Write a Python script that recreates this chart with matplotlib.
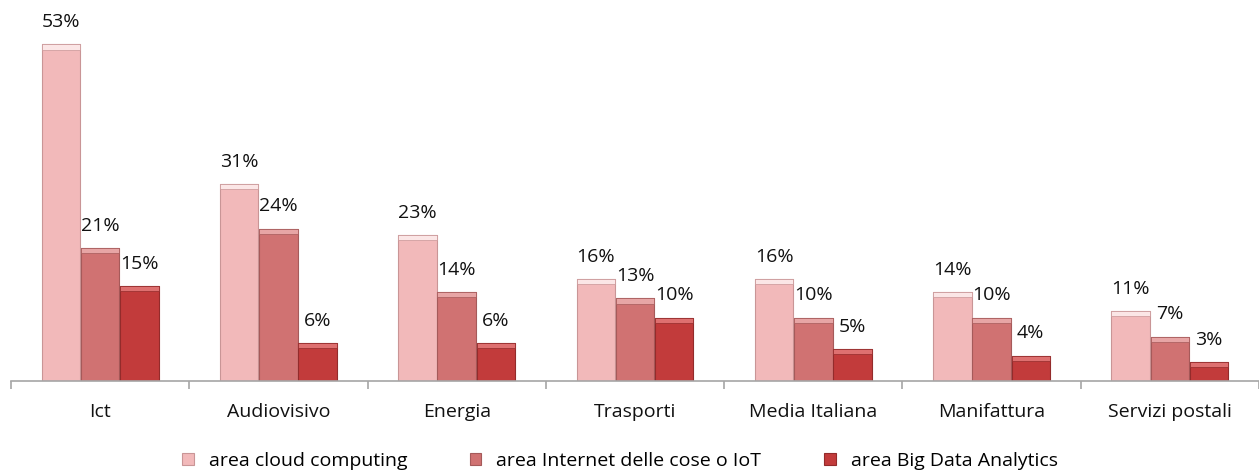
import numpy as np
import matplotlib.pyplot as plt
from matplotlib.patches import Patch

plt.rcParams['font.family'] = ['Open Sans', 'DejaVu Sans']

CATEGORIES = ['Ict', 'Audiovisivo', 'Energia', 'Trasporti', 'Media Italiana',
              'Manifattura', 'Servizi postali']
SERIES = ['area cloud computing', 'area Internet delle cose o IoT', 'area Big Data Analytics']
CLOUD = [53, 31, 23, 16, 16, 14, 11]
IOT = [21, 24, 14, 13, 10, 10, 7]
BIGDATA = [15, 6, 6, 10, 5, 4, 3]

COLORS = ['#F2B9BA', '#D07272', '#C23B3B']
EDGES = ['#C99596', '#A55A5A', '#932B2B']
TOPS = ['#FBE6E6', '#E7A5A5', '#DE7070']

fig = plt.figure(figsize=(12.59, 4.73), dpi=100)
ax = fig.add_axes([11 / 1259, 92 / 473, 1 - 11 / 1259, 381 / 473])

x = np.arange(len(CATEGORIES))
bw = 0.22
offsets = [-bw, 0.0, bw]
for vals, off, c, ec, tc in zip([CLOUD, IOT, BIGDATA], offsets, COLORS, EDGES, TOPS):
    vals = np.array(vals)
    ax.bar(x + off, vals, bw * 0.98, color=c, edgecolor=ec, linewidth=0.8, zorder=2)
    ax.bar(x + off, np.full(len(vals), 0.8), bw * 0.98, bottom=vals - 0.8,
           color=tc, edgecolor=ec, linewidth=0.5, zorder=3)
    for xi, v in zip(x + off, vals):
        ax.text(xi, v + 2.7, f'{v}%', ha='center', va='baseline', fontsize=14,
                color='#111111', zorder=4)

ax.set_xlim(-0.5, len(CATEGORIES) - 0.5)
ax.set_ylim(0, 60)
ax.set_yticks([])
for s in ['top', 'right', 'left']:
    ax.spines[s].set_visible(False)
ax.spines['bottom'].set_color('#A6A6A6')
ax.spines['bottom'].set_linewidth(1.2)

ax.set_xticks(np.arange(len(CATEGORIES) + 1) - 0.5)
ax.set_xticklabels([])
ax.tick_params(axis='x', length=6, color='#A6A6A6', width=1.2)
for xi, name in zip(x, CATEGORIES):
    ax.text(xi, -5.7, name, ha='center', va='baseline', fontsize=14, color='#111111')

handles = [Patch(facecolor=c, edgecolor=ec, linewidth=0.8) for c, ec in zip(COLORS, EDGES)]
fig.legend(handles, SERIES, loc='center', bbox_to_anchor=(620 / 1259, 1 - 461 / 473), ncol=3,
           frameon=False, fontsize=14, handlelength=0.57, handleheight=0.57,
           handletextpad=0.77, columnspacing=3.25, borderpad=0.1)

fig.savefig('out.png', dpi=100)
